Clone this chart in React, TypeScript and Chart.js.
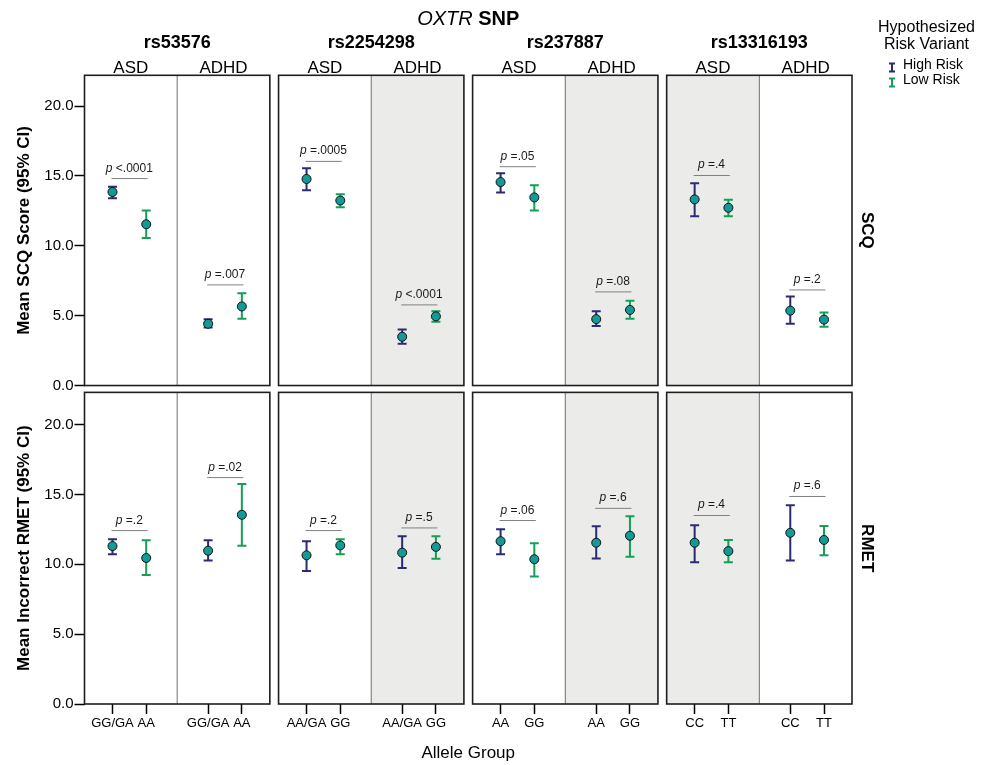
import React, { useEffect, useRef } from 'react';
import { Chart, registerables } from 'chart.js';
Chart.register(...registerables);

// ---------------- data ----------------
const snpNames = ['rs53576', 'rs2254298', 'rs237887', 'rs13316193'];
const groupNames = ['ASD', 'ADHD'];
const alleleLabels = [
  ['GG/GA', 'AA'],
  ['AA/GA', 'GG'],
  ['AA', 'GG'],
  ['CC', 'TT'],
];
const measureNames = ['SCQ', 'RMET'];
const yTitles = ['Mean SCQ Score (95% CI)', 'Mean Incorrect RMET (95% CI)'];
const yTickValues = [0, 5, 10, 15, 20];
const seriesNames = ['High Risk', 'Low Risk'];
const legendTitle = ['Hypothesized', 'Risk Variant'];

// [mean, lower 95% CI, upper 95% CI]; order: rs53576 ASD, rs53576 ADHD, rs2254298 ASD, ...
const scqHigh = [
  [13.85, 13.41, 14.23], [4.42, 4.15, 4.75],
  [14.78, 13.98, 15.55], [3.49, 2.99, 4.01],
  [14.56, 13.82, 15.19], [4.75, 4.26, 5.31],
  [13.32, 12.12, 14.48], [5.36, 4.42, 6.37],
];
const scqLow = [
  [11.54, 10.55, 12.53], [5.66, 4.78, 6.6],
  [13.24, 12.75, 13.68], [4.95, 4.56, 5.31],
  [13.46, 12.53, 14.34], [5.41, 4.78, 6.07],
  [12.72, 12.12, 13.3], [4.72, 4.21, 5.22],
];
const rmetHigh = [
  [11.3, 10.72, 11.79], [10.97, 10.26, 11.71],
  [10.64, 9.52, 11.65], [10.83, 9.74, 12.0],
  [11.65, 10.72, 12.5], [11.54, 10.42, 12.72],
  [11.54, 10.15, 12.8], [12.25, 10.26, 14.22],
];
const rmetLow = [
  [10.45, 9.24, 11.71], [13.54, 11.32, 15.75],
  [11.35, 10.72, 11.79], [11.24, 10.39, 12.0],
  [10.36, 9.13, 11.51], [12.04, 10.53, 13.43],
  [10.94, 10.15, 11.74], [11.74, 10.64, 12.74],
];
const scqP = ['<.0001', '=.007', '=.0005', '<.0001', '=.05', '=.08', '=.4', '=.2'];
const rmetP = ['=.2', '=.02', '=.2', '=.5', '=.06', '=.6', '=.4', '=.6'];
const scqBracket = [14.81, 7.2, 16.04, 5.77, 15.66, 6.7, 15.03, 6.84];
const rmetBracket = [12.41, 16.2, 12.41, 12.6, 13.13, 14.0, 13.49, 14.85];
const shadedCells = [[false, false], [false, true], [false, true], [true, false]];

// ---------------- layout ----------------
const FONT = "'Liberation Sans', Arial, Helvetica, sans-serif";
const TEAL = '#129a97';
const NAVY = '#2b2a74';
const GREEN = '#13a056';
const SHADE = '#ebebea';
const ROW_OFFSET = 22.79;
const rowOffsets = [ROW_OFFSET, 0];
const rowTops = [22.2, 22.3];
const Y_MAX = ROW_OFFSET + 22.2;
const PANEL_STRIDE = 2.094;
const X_MAX = 3 * PANEL_STRIDE + 2;
const SLOTS = [[0.302, 0.666], [0.334, 0.698]];
const xPos = (p: number, g: number, v: number) => p * PANEL_STRIDE + g + SLOTS[g][v];

const seriesByRow = [[scqHigh, scqLow], [rmetHigh, rmetLow]];
const pByRow = [scqP, rmetP];
const bracketByRow = [scqBracket, rmetBracket];

const xTickVals: number[] = [];
const xTickLabels: string[] = [];
for (let p = 0; p < 4; p++)
  for (let g = 0; g < 2; g++)
    for (let v = 0; v < 2; v++) {
      xTickVals.push(xPos(p, g, v));
      xTickLabels.push(alleleLabels[p][v]);
    }
const yTickVals = [...yTickValues, ...yTickValues.map((v) => v + ROW_OFFSET)];

function buildDatasets() {
  return [0, 1].map((v) => {
    const data: { x: number; y: number }[] = [];
    const lo: number[] = [];
    const hi: number[] = [];
    for (let r = 0; r < 2; r++)
      for (let p = 0; p < 4; p++)
        for (let g = 0; g < 2; g++) {
          const [m, l, h] = seriesByRow[r][v][p * 2 + g];
          data.push({ x: xPos(p, g, v), y: m + rowOffsets[r] });
          lo.push(l + rowOffsets[r]);
          hi.push(h + rowOffsets[r]);
        }
    return {
      label: seriesNames[v],
      data,
      errLo: lo,
      errHi: hi,
      errColor: v === 0 ? NAVY : GREEN,
      showLine: false,
      pointRadius: 4.5,
      pointBackgroundColor: TEAL,
      pointBorderColor: '#111111',
      pointBorderWidth: 1,
    } as any;
  });
}

const panelPlugin = {
  id: 'panels',
  beforeDatasetsDraw(chart: any) {
    const { ctx } = chart;
    const x = chart.scales.x;
    const y = chart.scales.y;
    ctx.save();
    for (let r = 0; r < 2; r++) {
      const yTop = y.getPixelForValue(rowOffsets[r] + rowTops[r]);
      const yBot = y.getPixelForValue(rowOffsets[r]);
      for (let p = 0; p < 4; p++) {
        const x0 = x.getPixelForValue(p * PANEL_STRIDE);
        const x1 = x.getPixelForValue(p * PANEL_STRIDE + 1);
        const x2 = x.getPixelForValue(p * PANEL_STRIDE + 2);
        ctx.fillStyle = SHADE;
        if (shadedCells[p][0]) ctx.fillRect(x0, yTop, x1 - x0, yBot - yTop);
        if (shadedCells[p][1]) ctx.fillRect(x1, yTop, x2 - x1, yBot - yTop);
        ctx.strokeStyle = '#707070';
        ctx.lineWidth = 1;
        ctx.beginPath();
        ctx.moveTo(x1, yTop);
        ctx.lineTo(x1, yBot);
        ctx.stroke();
        ctx.strokeStyle = '#1e1e1e';
        ctx.lineWidth = 1.6;
        ctx.strokeRect(x0, yTop, x2 - x0, yBot - yTop);
      }
      // p-value brackets
      for (let p = 0; p < 4; p++)
        for (let g = 0; g < 2; g++) {
          const i = p * 2 + g;
          const xa = x.getPixelForValue(xPos(p, g, 0));
          const xb = x.getPixelForValue(xPos(p, g, 1));
          const yl = y.getPixelForValue(bracketByRow[r][i] + rowOffsets[r]);
          ctx.strokeStyle = '#808080';
          ctx.lineWidth = 1;
          ctx.beginPath();
          ctx.moveTo(xa - 1, yl);
          ctx.lineTo(xb + 1.5, yl);
          ctx.stroke();
          const rest = ' ' + pByRow[r][i];
          ctx.font = `italic 12px ${FONT}`;
          const wp = ctx.measureText('p').width;
          ctx.font = `12px ${FONT}`;
          const wr = ctx.measureText(rest).width;
          const sx = (xa + xb) / 2 - (wp + wr) / 2;
          ctx.fillStyle = '#1a1a1a';
          ctx.textBaseline = 'alphabetic';
          ctx.textAlign = 'left';
          ctx.font = `italic 12px ${FONT}`;
          ctx.fillText('p', sx, yl - 7);
          ctx.font = `12px ${FONT}`;
          ctx.fillText(rest, sx + wp, yl - 7);
        }
    }
    // error bars
    chart.data.datasets.forEach((ds: any, d: number) => {
      const meta = chart.getDatasetMeta(d);
      ctx.strokeStyle = ds.errColor;
      ctx.lineWidth = 2;
      meta.data.forEach((el: any, i: number) => {
        const px = el.x;
        const pl = y.getPixelForValue(ds.errLo[i]);
        const ph = y.getPixelForValue(ds.errHi[i]);
        ctx.beginPath();
        ctx.moveTo(px, pl);
        ctx.lineTo(px, ph);
        ctx.moveTo(px - 4.5, pl);
        ctx.lineTo(px + 4.5, pl);
        ctx.moveTo(px - 4.5, ph);
        ctx.lineTo(px + 4.5, ph);
        ctx.stroke();
      });
    });
    ctx.restore();
  },
  afterDraw(chart: any) {
    const { ctx } = chart;
    const x = chart.scales.x;
    const y = chart.scales.y;
    ctx.save();
    ctx.fillStyle = '#000';
    ctx.textBaseline = 'alphabetic';
    // main header
    const left = x.getPixelForValue(0);
    const right = x.getPixelForValue(X_MAX);
    const cx = (left + right) / 2;
    ctx.font = `italic 20px ${FONT}`;
    const w1 = ctx.measureText('OXTR').width;
    ctx.font = `20px ${FONT}`;
    const w2 = ctx.measureText(' ').width;
    ctx.font = `bold 20px ${FONT}`;
    const w3 = ctx.measureText('SNP').width;
    let sx = cx - (w1 + w2 + w3) / 2;
    ctx.textAlign = 'left';
    ctx.font = `italic 20px ${FONT}`;
    ctx.fillText('OXTR', sx, 24.5);
    ctx.font = `bold 20px ${FONT}`;
    ctx.fillText('SNP', sx + w1 + w2, 24.5);
    // snp & group headers
    ctx.textAlign = 'center';
    for (let p = 0; p < 4; p++) {
      const x0 = x.getPixelForValue(p * PANEL_STRIDE);
      const x1 = x.getPixelForValue(p * PANEL_STRIDE + 1);
      const x2 = x.getPixelForValue(p * PANEL_STRIDE + 2);
      ctx.font = `bold 18px ${FONT}`;
      ctx.fillText(snpNames[p], (x0 + x2) / 2, 48.3);
      ctx.font = `17px ${FONT}`;
      ctx.fillText(groupNames[0], (x0 + x1) / 2, 72.7);
      ctx.fillText(groupNames[1], (x1 + x2) / 2, 72.7);
    }
    // row titles
    for (let r = 0; r < 2; r++) {
      const yTop = y.getPixelForValue(rowOffsets[r] + rowTops[r]);
      const yBot = y.getPixelForValue(rowOffsets[r]);
      const cy = (yTop + yBot) / 2;
      ctx.save();
      ctx.translate(29, cy);
      ctx.rotate(-Math.PI / 2);
      ctx.font = `bold 17px ${FONT}`;
      ctx.textAlign = 'center';
      ctx.fillText(yTitles[r], 0, 0);
      ctx.restore();
      ctx.save();
      ctx.translate(862, cy);
      ctx.rotate(Math.PI / 2);
      ctx.font = `bold 17px ${FONT}`;
      ctx.textAlign = 'center';
      ctx.fillText(measureNames[r], 0, 0);
      ctx.restore();
    }
    // legend
    ctx.textAlign = 'center';
    ctx.font = `16px ${FONT}`;
    ctx.fillText(legendTitle[0], 926.5, 31.7);
    ctx.fillText(legendTitle[1], 926.5, 49.3);
    ctx.textAlign = 'left';
    ctx.font = `14px ${FONT}`;
    chart.data.datasets.forEach((ds: any, d: number) => {
      const base = 69 + d * 15;
      const ic = base - 1.5;
      ctx.strokeStyle = ds.errColor;
      ctx.lineWidth = 2;
      ctx.beginPath();
      ctx.moveTo(892, ic - 4);
      ctx.lineTo(892, ic + 4);
      ctx.moveTo(889, ic - 4);
      ctx.lineTo(895, ic - 4);
      ctx.moveTo(889, ic + 4);
      ctx.lineTo(895, ic + 4);
      ctx.stroke();
      ctx.fillStyle = '#000';
      ctx.fillText(ds.label, 903, base);
    });
    ctx.restore();
  },
};

export default function App() {
  const ref = useRef<HTMLCanvasElement | null>(null);
  useEffect(() => {
    if (!ref.current) return;
    const chart = new Chart(ref.current, {
      type: 'scatter',
      data: { datasets: buildDatasets() },
      options: {
        responsive: false,
        animation: false,
        events: [],
        layout: { padding: { left: 0, top: 75.3, right: 131, bottom: 0 } },
        plugins: {
          legend: { display: false },
          tooltip: { enabled: false },
          title: { display: false },
        },
        scales: {
          x: {
            type: 'linear',
            min: 0,
            max: X_MAX,
            afterBuildTicks: (s: any) => {
              s.ticks = xTickVals.map((v) => ({ value: v }));
            },
            afterFit: (s: any) => {
              s.height = 61;
            },
            ticks: {
              autoSkip: false,
              maxRotation: 0,
              minRotation: 0,
              padding: 2,
              color: '#000',
              font: { family: FONT, size: 13 },
              callback: (_v: any, i: number) => xTickLabels[i],
            },
            grid: {
              drawOnChartArea: false,
              drawTicks: true,
              tickLength: 10,
              tickColor: '#000',
              tickWidth: 1.5,
            },
            border: { display: false },
            title: {
              display: true,
              text: 'Allele Group',
              color: '#000',
              font: { family: FONT, size: 17 },
              padding: { top: 0, bottom: 1 },
            },
          },
          y: {
            type: 'linear',
            min: 0,
            max: Y_MAX,
            afterBuildTicks: (s: any) => {
              s.ticks = yTickVals.map((v) => ({ value: v }));
            },
            afterFit: (s: any) => {
              s.width = 84.5;
            },
            ticks: {
              padding: 1,
              color: '#000',
              font: { family: FONT, size: 15 },
              callback: (v: any) => {
                const n = Number(v);
                const val = n >= ROW_OFFSET - 0.01 ? n - ROW_OFFSET : n;
                return (Math.round(val * 10) / 10).toFixed(1);
              },
            },
            grid: {
              drawOnChartArea: false,
              drawTicks: true,
              tickLength: 10,
              tickColor: '#000',
              tickWidth: 1.5,
            },
            border: { display: false },
          },
        },
      } as any,
      plugins: [panelPlugin],
    });
    return () => chart.destroy();
  }, []);
  return (
    <div style={{ position: 'absolute', left: 0, top: 0, width: 983, height: 765, background: '#fff' }}>
      <canvas ref={ref} width={983} height={765} style={{ display: 'block' }} />
    </div>
  );
}
